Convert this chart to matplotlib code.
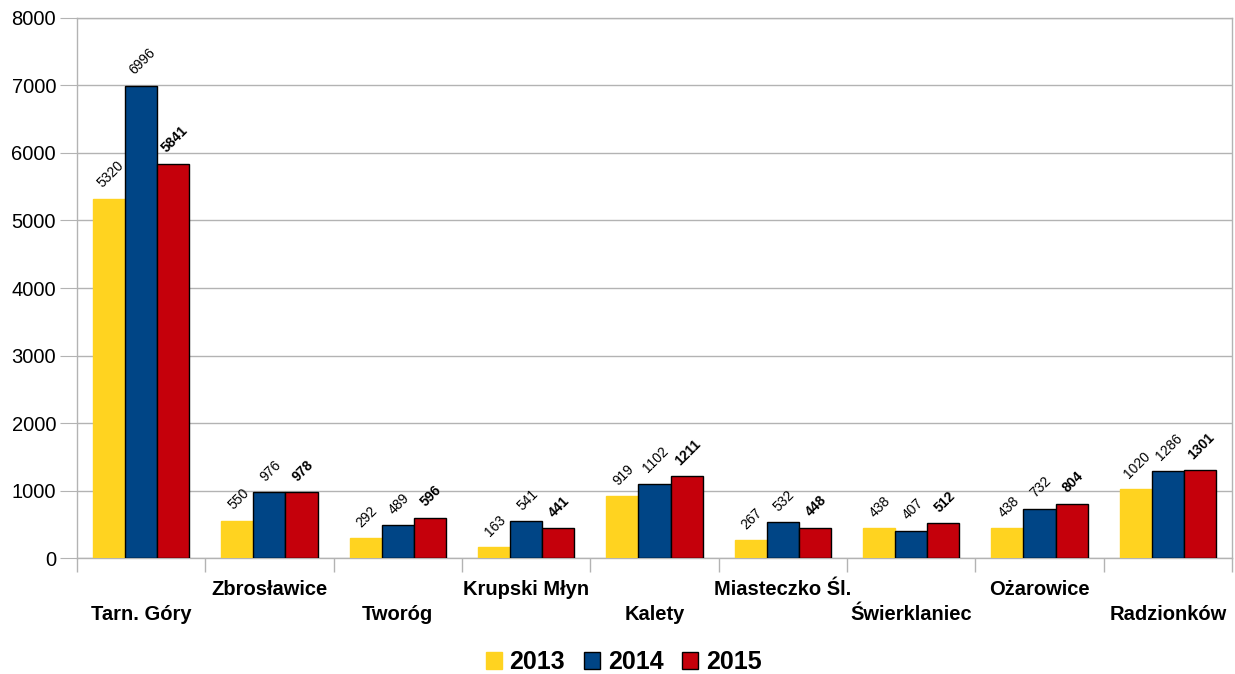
import matplotlib
matplotlib.use("Agg")
from matplotlib import pyplot as plt
import numpy as np

plt.rcParams['font.family'] = ['Liberation Sans', 'DejaVu Sans']

gminy = ["Tarn. Góry", "Zbrosławice", "Tworóg", "Krupski Młyn", "Kalety",
         "Miasteczko Śl.", "Świerklaniec", "Ożarowice", "Radzionków"]
lata = ["2013", "2014", "2015"]
v2013 = [5320, 550, 292, 163, 919, 267, 438, 438, 1020]
v2014 = [6996, 976, 489, 541, 1102, 532, 407, 732, 1286]
v2015 = [5841, 978, 596, 441, 1211, 448, 512, 804, 1301]

kolory = ["#ffd320", "#004586", "#c5000b"]
krawedzie = ["#ffd320", "black", "black"]

fig = plt.figure(figsize=(12.35, 6.74), dpi=100)
ax = fig.add_axes([0.0623, 0.1721, 0.9353, 0.8012])

x = np.arange(len(gminy))
w = 0.25
for i, (vals, rok) in enumerate(zip([v2013, v2014, v2015], lata)):
    pos = x + (i - 1) * w
    ax.bar(pos, vals, width=w, color=kolory[i], edgecolor=krawedzie[i],
           linewidth=1, label=rok, zorder=3)
    for px, v in zip(pos, vals):
        ax.annotate(str(v), (px, v), xytext=(1, 6), textcoords="offset points",
                    ha="center", va="bottom", rotation=45, fontsize=10,
                    fontweight="bold" if i == 2 else "normal", zorder=4)

ax.set_xlim(-0.5, len(gminy) - 0.5)
ax.set_ylim(0, 8000)
ax.set_yticks(np.arange(0, 8001, 1000))
ax.yaxis.grid(True, color="#b3b3b3", linewidth=1, zorder=0)
ax.tick_params(axis="y", labelsize=14.5, length=12, color="#b3b3b3", pad=3)

ax.set_xticks(x)
ax.set_xticklabels([])
ax.tick_params(axis="x", which="major", length=0)
ax.set_xticks(np.arange(-0.5, len(gminy)), minor=True)
ax.tick_params(axis="x", which="minor", length=10, color="#b3b3b3", width=1)

for i, g in enumerate(gminy):
    dy = -31 if i % 2 else -56
    ax.annotate(g, (x[i], 0), xytext=(0, dy * 0.72), textcoords="offset points",
                ha="center", va="center", fontsize=14.5, fontweight="bold",
                annotation_clip=False)

for s in ax.spines.values():
    s.set_color("#b3b3b3")
    s.set_linewidth(1)

leg = fig.legend(loc="center", bbox_to_anchor=(0.505, 1 - 662 / 674), ncol=3,
                 frameon=False, prop={"size": 18, "weight": "bold"},
                 handlelength=0.65, handleheight=0.65, handletextpad=0.3,
                 columnspacing=0.75)

fig.savefig("out.png", dpi=100)
